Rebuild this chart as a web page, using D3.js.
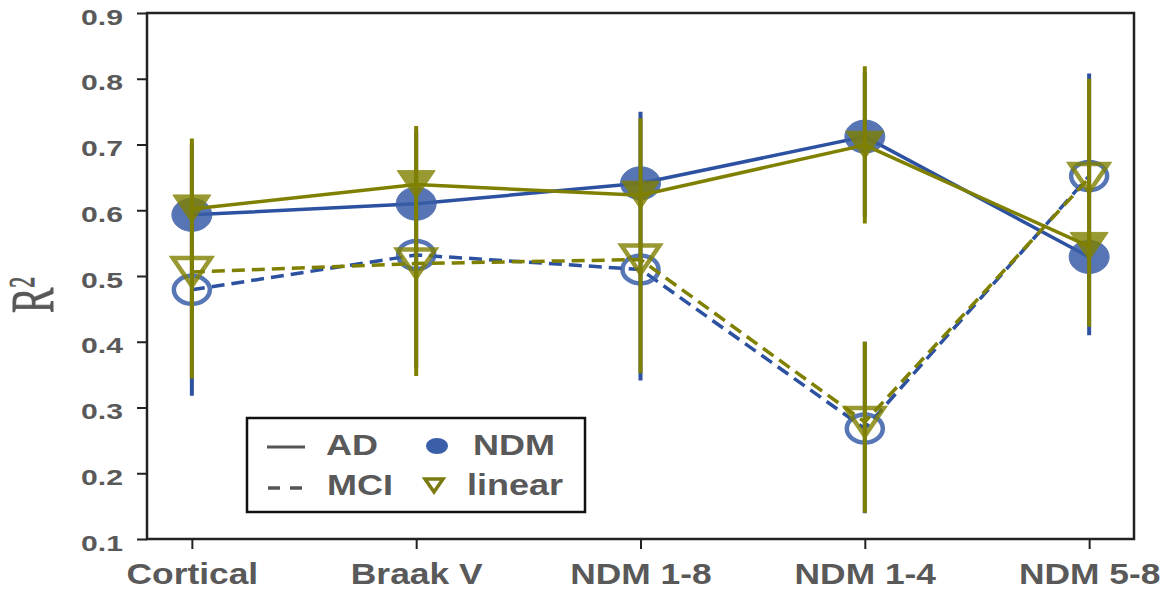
<!DOCTYPE html>
<html>
<head>
    <meta charset="utf-8">
    <style>
        body { margin: 0; background: white; }
        svg { display: block; }
        .lab { font-family: 'Liberation Sans', Arial, sans-serif; font-weight: bold; fill: #595959; }
    </style>
</head>
<body>
    <svg width="1170" height="592"></svg>

<script src="https://d3js.org/d3.v7.min.js"></script>
<script>
    // values
    let categories = ["Cortical", "Braak V", "NDM 1-8", "NDM 1-4", "NDM 5-8"]
    let yTicks = [0.1, 0.2, 0.3, 0.4, 0.5, 0.6, 0.7, 0.8, 0.9]

    let ndmAD = [0.593, 0.610, 0.641, 0.712, 0.529]
    let ndmMCI = [0.479, 0.532, 0.510, 0.268, 0.652]
    let linAD = [0.602, 0.639, 0.623, 0.699, 0.545]
    let linMCI = [0.506, 0.519, 0.525, 0.278, 0.649]

    // error bar ends (null = no separate bar visible)
    let ndmADLo = [0.318, 0.36, 0.341, 0.59, 0.41]
    let ndmADHi = [0.70, 0.72, 0.750, 0.81, 0.808]
    let linADLo = [0.344, 0.348, 0.352, 0.58, 0.423]
    let linADHi = [0.709, 0.728, 0.740, 0.819, 0.80]
    let ndmMCILo = [null, null, null, 0.139, null]
    let ndmMCIHi = [null, null, null, 0.40, null]
    let linMCILo = [null, null, null, 0.14, null]
    let linMCIHi = [null, null, null, 0.40, null]

    let blue = "#2c51a0"
    let olive = "#808000"

    let svg = d3.select("svg")
    let margin = { top: 13, right: 36, bottom: 53, left: 147 }
    let width = 1170, height = 592

    let x = d3.scalePoint()
        .domain(categories)
        .range([margin.left, width - margin.right])
        .padding(0.2)

    let y = d3.scaleLinear()
        .domain([0.1, 0.9])
        .range([height - margin.bottom, margin.top])

    // axes
    let yAxis = svg.append("g")
        .attr("transform", `translate(${margin.left},0)`)
        .call(d3.axisLeft(y).tickValues(yTicks).tickSize(10).tickFormat(d3.format(".1f")))
    yAxis.select(".domain").remove()
    yAxis.selectAll("line").attr("stroke", "#222").attr("stroke-width", 2)
    yAxis.selectAll("text")
        .attr("class", "lab")
        .attr("x", 0).attr("dy", null)
        .attr("transform", "translate(-24,11) scale(1.37,1)")
        .style("font-size", "22px")

    let xAxis = svg.append("g")
        .attr("transform", `translate(0,${height - margin.bottom})`)
        .call(d3.axisBottom(x).tickSize(10))
    xAxis.select(".domain").remove()
    xAxis.selectAll("line").attr("stroke", "#222").attr("stroke-width", 2)
    xAxis.selectAll("text")
        .attr("class", "lab")
        .attr("y", 0).attr("dy", null)
        .attr("transform", "translate(0,45) scale(1.22,1)")
        .style("font-size", "29px")

    svg.append("rect")
        .attr("x", margin.left).attr("y", margin.top)
        .attr("width", width - margin.left - margin.right)
        .attr("height", height - margin.top - margin.bottom)
        .attr("fill", "none")
        .attr("stroke", "#222")
        .attr("stroke-width", 2.5)

    // y label
    let rl = svg.append("text")
        .attr("transform", "translate(53,313) scale(1.6,1) rotate(-90)")
        .style("font-family", "'Liberation Serif', 'DejaVu Serif', serif")
        .style("font-size", "38px")
        .attr("fill", "#575757")
        .attr("stroke", "#575757")
        .attr("stroke-width", 0.6)
    rl.append("tspan").text("R")
    rl.append("tspan").text("2").style("font-size", "22px").attr("dy", -12)

    let plot = svg.append("g")

    function errBars(lo, hi, color) {
        plot.append("g")
            .selectAll("line")
            .data(categories.map((c, i) => ({ c: c, lo: lo[i], hi: hi[i] })).filter(d => d.lo != null))
            .join("line")
            .attr("x1", d => x(d.c)).attr("x2", d => x(d.c))
            .attr("y1", d => y(d.lo)).attr("y2", d => y(d.hi))
            .attr("stroke", color)
            .attr("stroke-width", 4)
    }

    function seriesLine(vals, color, dash) {
        let line = d3.line()
            .x((d, i) => x(categories[i]))
            .y(d => y(d))
        plot.append("path")
            .attr("d", line(vals))
            .attr("fill", "none")
            .attr("stroke", color)
            .attr("stroke-width", 3.5)
            .attr("stroke-dasharray", dash)
    }

    function circles(vals, filled) {
        plot.append("g")
            .selectAll("ellipse")
            .data(vals)
            .join("ellipse")
            .attr("cx", (d, i) => x(categories[i]))
            .attr("cy", d => y(d))
            .attr("rx", filled ? 20 : 18)
            .attr("ry", filled ? 16.5 : 14)
            .attr("fill", filled ? "#3a5ea8" : "none")
            .attr("stroke", "#3a5ea8")
            .attr("stroke-width", filled ? 1 : 4.5)
            .attr("opacity", 0.85)
    }

    function triangles(vals, filled) {
        let w = 19, h = 14
        plot.append("g")
            .selectAll("path")
            .data(vals)
            .join("path")
            .attr("transform", (d, i) => `translate(${x(categories[i])},${y(d)})`)
            .attr("d", `M${-w},${-h}L${w},${-h}L0,${h}Z`)
            .attr("fill", filled ? olive : "none")
            .attr("stroke", olive)
            .attr("stroke-width", filled ? 1 : 4.5)
            .attr("stroke-linejoin", "miter")
            .attr("opacity", 0.8)
    }

    // NDM (blue)
    errBars(ndmADLo, ndmADHi, blue)
    errBars(ndmMCILo, ndmMCIHi, blue)
    seriesLine(ndmAD, blue, null)
    seriesLine(ndmMCI, blue, "13,7")
    circles(ndmAD, true)
    circles(ndmMCI, false)

    // linear (olive)
    errBars(linADLo, linADHi, olive)
    errBars(linMCILo, linMCIHi, olive)
    seriesLine(linAD, olive, null)
    seriesLine(linMCI, olive, "13,7")
    triangles(linAD, true)
    triangles(linMCI, false)

    // legend
    let lg = svg.append("g")
    lg.append("rect")
        .attr("x", 247).attr("y", 418).attr("width", 338).attr("height", 94)
        .attr("fill", "white").attr("stroke", "#111").attr("stroke-width", 2.5)
    lg.append("line").attr("x1", 267).attr("x2", 305).attr("y1", 447).attr("y2", 447)
        .attr("stroke", "#555").attr("stroke-width", 3)
    lg.append("line").attr("x1", 268).attr("x2", 302).attr("y1", 488).attr("y2", 488)
        .attr("stroke", "#555").attr("stroke-width", 3.5).attr("stroke-dasharray", "12,10")
    lg.append("ellipse").attr("cx", 437).attr("cy", 446).attr("rx", 11).attr("ry", 8)
        .attr("fill", "#3a5ea8")
    lg.append("path").attr("transform", "translate(434,485)")
        .attr("d", "M-9,-6L9,-6L0,7Z")
        .attr("fill", "none").attr("stroke", "#7a7a10").attr("stroke-width", 3.5)

    let legendItems = [
        { t: "AD", x: 326, y: 455 },
        { t: "NDM", x: 473, y: 455 },
        { t: "MCI", x: 327, y: 495 },
        { t: "linear", x: 467, y: 495 }
    ]
    lg.selectAll(".lt")
        .data(legendItems)
        .join("text")
        .attr("class", "lab lt")
        .attr("transform", d => `translate(${d.x},${d.y}) scale(1.2,1)`)
        .style("font-size", "30px")
        .text(d => d.t)
</script>
</body>
</html>
